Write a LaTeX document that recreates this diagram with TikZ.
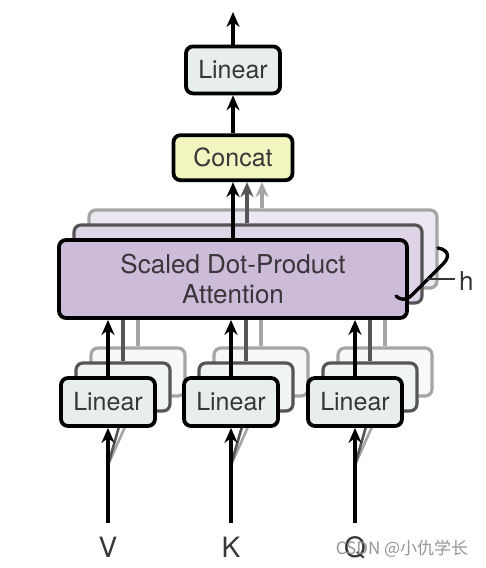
\documentclass[tikz,border=0pt]{standalone}
\usepackage{fontspec}
\setmainfont{TeX Gyre Heros}
\newfontfamily\cjk{Noto Sans CJK SC}
\usetikzlibrary{arrows.meta,positioning,calc}
\definecolor{linearfill}{RGB}{232,238,238}
\definecolor{concatfill}{RGB}{243,245,192}
\definecolor{attnfill}{RGB}{205,187,218}
\definecolor{labelgray}{RGB}{55,55,55}
\definecolor{ghostdark}{RGB}{85,85,85}
\definecolor{ghostlight}{RGB}{165,165,165}
\definecolor{markgray}{RGB}{150,150,150}
\tikzset{
    % Define box styles
    basebox/.style={
        rectangle, draw=black, line width=3.8pt, rounded corners=7pt,
        text=labelgray, font=\fontsize{25}{30}\selectfont, inner sep=0pt
    },
    linearbox/.style={
        basebox, fill=linearfill, minimum width=94pt, minimum height=48pt
    },
    concatbox/.style={
        basebox, fill=concatfill, minimum width=119pt, minimum height=45pt
    },
    attnbox/.style={
        basebox, fill=attnfill, minimum width=348pt, minimum height=78pt,
        align=center, font=\fontsize{26}{30}\selectfont
    },
    % stacked copies behind a box
    ghostnear/.style={draw=ghostdark, line width=3.2pt, fill=#1!65!white},
    ghostfar/.style={draw=ghostlight, line width=3.2pt, fill=#1!35!white},
    arrow/.style={
        -{Stealth[length=15pt,width=13pt]}, line width=3.8pt, color=black
    },
    ghostarrow/.style={arrow, line width=3.2pt, color=#1},
    fanline/.style={line width=2.6pt, color=#1},
    inputlabel/.style={
        text=labelgray, font=\fontsize{28}{30}\selectfont, inner sep=0pt, anchor=base
    }
}

\begin{document}
\begin{tikzpicture}[x=1pt, y=-1pt]

\useasboundingbox[fill=white] (0,0) rectangle (486,568);

% Attention block and its copies
\node[attnbox, ghostfar=attnfill] (attn3) at (263,249) {};
\node[attnbox, ghostnear=attnfill] (attn2) at (248,264) {};

% Copies of the linear layers
\node[linearbox, ghostfar=linearfill] (lin_v3) at (138,372) {};
\node[linearbox, ghostnear=linearfill] (lin_v2) at (123,387) {};
\node[linearbox, ghostfar=linearfill] (lin_k3) at (261,372) {};
\node[linearbox, ghostnear=linearfill] (lin_k2) at (246,387) {};
\node[linearbox, ghostfar=linearfill] (lin_q3) at (385,372) {};
\node[linearbox, ghostnear=linearfill] (lin_q2) at (370,387) {};

% Copy arrows into the attention copies (hidden by the front box)
\draw[ghostarrow=ghostlight] (lin_v3) -- (lin_v3 |- attn3.south);
\draw[ghostarrow=ghostdark] (lin_v2) -- (lin_v2 |- attn2.south);
\draw[ghostarrow=ghostlight] (lin_k3) -- (lin_k3 |- attn3.south);
\draw[ghostarrow=ghostdark] (lin_k2) -- (lin_k2 |- attn2.south);
\draw[ghostarrow=ghostlight] (lin_q3) -- (lin_q3 |- attn3.south);
\draw[ghostarrow=ghostdark] (lin_q2) -- (lin_q2 |- attn2.south);

% Front attention block
\node[attnbox] (attn) at (233,279) {Scaled Dot-Product\\Attention};

% Output side
\node[concatbox, above=56pt of attn] (concat) {Concat};
\node[linearbox, minimum height=47pt, above=38pt of concat] (lin_out) {Linear};
\coordinate (out_top) at (lin_out |- 0,12);

% Inputs
\node[inputlabel] (lbl_v) at (108,557) {V};
\node[inputlabel] (lbl_k) at (231,557) {K};
\node[inputlabel] (lbl_q) at (355,557) {Q};
\coordinate (fan_v) at (108,465);
\coordinate (fan_k) at (231,465);
\coordinate (fan_q) at (355,465);

% Inputs fanned out to the copies
\draw[fanline=ghostlight] (fan_v) -- (lin_v3.south);
\draw[fanline=ghostdark] (fan_v) -- (lin_v2.south);
\draw[fanline=ghostlight] (fan_k) -- (lin_k3.south);
\draw[fanline=ghostdark] (fan_k) -- (lin_k2.south);
\draw[fanline=ghostlight] (fan_q) -- (lin_q3.south);
\draw[fanline=ghostdark] (fan_q) -- (lin_q2.south);

% Front linear layers
\node[linearbox] (lin_v) at (108,402) {Linear};
\node[linearbox] (lin_k) at (231,402) {Linear};
\node[linearbox] (lin_q) at (355,402) {Linear};

% Main data flow arrows
\draw[arrow] (lbl_v.north) ++(0,-13) -- (lin_v);
\draw[arrow] (lbl_k.north) ++(0,-13) -- (lin_k);
\draw[arrow] (lbl_q.north) ++(0,-13) -- (lin_q);
\draw[arrow] (lin_v) -- (lin_v |- attn.south);
\draw[arrow] (lin_k) -- (lin_k |- attn.south);
\draw[arrow] (lin_q) -- (lin_q |- attn.south);
\draw[ghostarrow=ghostlight] (attn3.north -| 262,0) -- (262,0 |- concat.south);
\draw[ghostarrow=ghostdark] (attn2.north -| 247,0) -- (247,0 |- concat.south);
\draw[arrow] (attn.north -| concat) -- (concat);
\draw[arrow] (concat) -- (lin_out);
\draw[arrow] (lin_out) -- (out_top);

% Head count mark
\coordinate (brace_top) at (438,248);
\coordinate (brace_end) at (396,296);
\coordinate (brace_mid) at (427,279);
\node[text=labelgray, font=\fontsize{26}{30}\selectfont, anchor=west, inner sep=0pt] (h_lbl) at (459,281) {h};
\draw[line width=3.4pt, line cap=round] (brace_top) .. controls (449,250) and (450,257) .. (443,264)
    -- (412,295) .. controls (406,301) and (400,300) .. (brace_end);
\draw[line width=2.8pt, color=labelgray] (brace_mid) -- ([xshift=-4pt]h_lbl.west |- brace_mid);

% Watermark
\node[text=markgray, font=\cjk\fontsize{17}{20}\selectfont, inner sep=0pt] (mark) at (402,549) {CSDN @小仇学长};

\end{tikzpicture}
\end{document}
